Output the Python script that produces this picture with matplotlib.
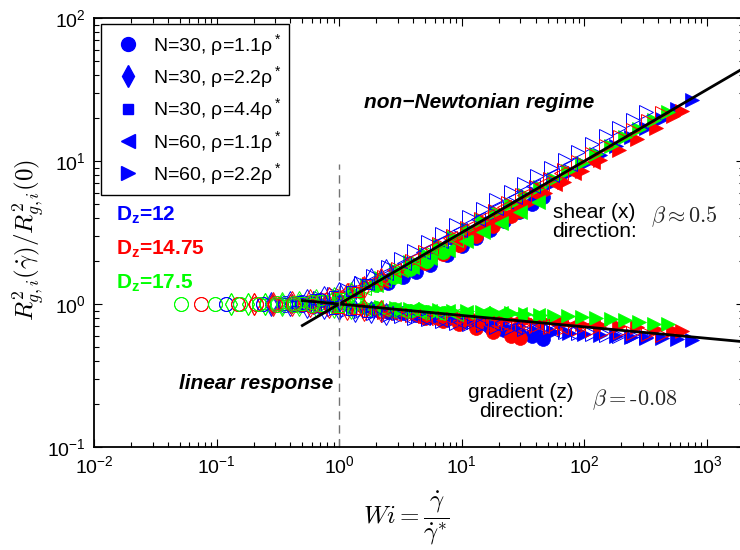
import numpy as np
import matplotlib.pyplot as plt
from matplotlib.lines import Line2D

plt.rcParams['font.family'] = 'Liberation Sans'
plt.rcParams['mathtext.fontset'] = 'custom'
plt.rcParams['mathtext.rm'] = 'Liberation Sans'
plt.rcParams['mathtext.it'] = 'Liberation Sans:italic'
plt.rcParams['mathtext.bf'] = 'Liberation Sans:bold'

# ---- data: Wi, shear (x) ratio, gradient (z) ratio ----
# Dz = 12 (blue)
wi_b_circ_open = [0.12, 0.24, 0.36, 0.5, 0.7]
sx_b_circ_open = [1.00, 1.00, 1.01, 1.03, 1.06]
sz_b_circ_open = [1.00, 1.00, 0.99, 0.98, 0.97]
wi_b_diam_open = [0.28, 0.4, 0.55, 0.75, 1.0, 1.35, 1.8, 2.4]
sx_b_diam_open = [1.02, 1.04, 1.07, 1.12, 1.2, 1.32, 1.5, 1.72]
sz_b_diam_open = [0.99, 0.98, 0.96, 0.94, 0.92, 0.9, 0.88, 0.85]
wi_b_sq_open = [0.45, 0.65, 0.9, 1.25, 1.7]
sx_b_sq_open = [1.05, 1.08, 1.14, 1.24, 1.38]
sz_b_sq_open = [0.97, 0.95, 0.93, 0.91, 0.88]
wi_b_tri_open = [0.7, 0.9, 1.15, 1.5, 1.9, 2.5, 3.2, 4.1, 5.3, 6.9, 8.9, 11.5, 15,
                 19, 25, 32, 41, 53, 69, 89, 115, 150, 190, 250, 320]
sx_b_tri_open = [1.1, 1.17, 1.26, 1.4, 1.56, 1.8, 2.05, 2.35, 2.7, 3.1, 3.55, 4.05, 4.65,
                 5.3, 6.1, 6.9, 7.8, 8.9, 10.1, 11.5, 13.1, 15.0, 16.9, 19.4, 22.0]
sz_b_tri_open = [0.95, 0.93, 0.91, 0.89, 0.87, 0.84, 0.82, 0.8, 0.78, 0.76, 0.74, 0.72, 0.71,
                 0.69, 0.68, 0.67, 0.66, 0.65, 0.64, 0.63, 0.62, 0.61, 0.6, 0.6, 0.59]
wi_b_left_open = [0.6, 0.85, 1.2, 1.7, 2.4, 3.4, 4.8, 6.8, 9.6, 13.5, 19, 27, 38, 54, 76]
sx_b_left_open = [1.06, 1.12, 1.22, 1.4, 1.65, 1.95, 2.3, 2.75, 3.3, 3.95, 4.7, 5.6, 6.7, 8.0, 9.5]
sz_b_left_open = [0.97, 0.95, 0.92, 0.89, 0.86, 0.83, 0.8, 0.77, 0.75, 0.73, 0.71, 0.69, 0.67,
                  0.66, 0.64]
wi_b_circ_fill = [2.5, 3.3, 4.2, 5.5, 7.5, 10, 13, 17, 22, 29, 37, 46]
sx_b_circ_fill = [1.4, 1.55, 1.68, 1.88, 2.2, 2.55, 2.9, 3.3, 3.8, 4.4, 5.0, 5.6]
sz_b_circ_fill = [0.88, 0.86, 0.84, 0.81, 0.78, 0.75, 0.72, 0.69, 0.66, 0.63, 0.6, 0.57]
wi_b_left_fill = [1.8, 2.6, 3.8, 5.5, 8, 11.5, 17, 25]
sx_b_left_fill = [1.35, 1.6, 1.9, 2.25, 2.75, 3.3, 4.0, 4.9]
sz_b_left_fill = [0.9, 0.87, 0.84, 0.8, 0.77, 0.74, 0.71, 0.68]
wi_b_right_fill = [40, 55, 75, 100, 135, 180, 240, 320, 430, 570, 760]
sx_b_right_fill = [6.0, 7.0, 8.2, 9.5, 11.0, 12.8, 14.8, 17.0, 19.8, 23.0, 26.7]
sz_b_right_fill = [0.65, 0.64, 0.63, 0.62, 0.61, 0.6, 0.59, 0.58, 0.58, 0.57, 0.56]

# Dz = 14.75 (red)
wi_r_circ_open = [0.075, 0.15, 0.21, 0.3, 0.42, 0.6]
sx_r_circ_open = [1.0, 1.0, 1.0, 1.01, 1.02, 1.04]
sz_r_circ_open = [1.0, 1.0, 1.0, 0.99, 0.98, 0.97]
wi_r_diam_open = [0.2, 0.29, 0.41, 0.58, 0.82, 1.15, 1.6, 2.2]
sx_r_diam_open = [1.0, 1.01, 1.03, 1.06, 1.1, 1.18, 1.32, 1.5]
sz_r_diam_open = [1.0, 0.99, 0.98, 0.97, 0.95, 0.93, 0.91, 0.89]
wi_r_sq_open = [0.35, 0.5, 0.7, 1.0, 1.4]
sx_r_sq_open = [1.02, 1.04, 1.07, 1.12, 1.22]
sz_r_sq_open = [0.98, 0.97, 0.96, 0.94, 0.92]
wi_r_tri_open = [0.8, 1.05, 1.35, 1.75, 2.3, 3.0, 3.9, 5.0, 6.5, 8.5, 11, 14.3, 18.5,
                 24, 31, 40, 52, 68, 88, 115, 150, 195, 250, 330, 430]
sx_r_tri_open = [1.08, 1.15, 1.25, 1.38, 1.55, 1.77, 2.0, 2.3, 2.62, 3.0, 3.42, 3.9, 4.45,
                 5.1, 5.8, 6.6, 7.5, 8.6, 9.8, 11.2, 12.8, 14.6, 16.6, 19.1, 21.8]
sz_r_tri_open = [0.96, 0.94, 0.92, 0.9, 0.88, 0.86, 0.84, 0.82, 0.8, 0.78, 0.76, 0.75, 0.73,
                 0.72, 0.71, 0.7, 0.69, 0.68, 0.67, 0.66, 0.65, 0.64, 0.63, 0.62, 0.61]
wi_r_left_open = [0.5, 0.7, 1.0, 1.4, 2.0, 2.8, 4.0, 5.6, 8, 11, 16, 22, 32, 45, 64]
sx_r_left_open = [1.04, 1.08, 1.15, 1.28, 1.48, 1.72, 2.05, 2.45, 2.9, 3.4, 4.1, 4.8, 5.8,
                  6.9, 8.2]
sz_r_left_open = [0.98, 0.96, 0.94, 0.91, 0.88, 0.85, 0.83, 0.8, 0.78, 0.76, 0.74, 0.73, 0.71,
                  0.7, 0.69]
wi_r_circ_fill = [5, 7, 9.5, 13, 18, 25, 30]
sx_r_circ_fill = [1.95, 2.25, 2.6, 3.0, 3.5, 4.1, 4.5]
sz_r_circ_fill = [0.8, 0.76, 0.72, 0.68, 0.64, 0.6, 0.58]
wi_r_left_fill = [2.2, 3.2, 4.6, 6.6, 9.5, 13.5, 19.5, 28, 40, 57, 82, 118]
sx_r_left_fill = [1.45, 1.72, 2.05, 2.45, 2.9, 3.45, 4.1, 4.9, 5.8, 6.9, 8.3, 9.9]
sz_r_left_fill = [0.9, 0.88, 0.86, 0.84, 0.82, 0.8, 0.78, 0.77, 0.75, 0.74, 0.73, 0.72]
wi_r_right_fill = [12, 17, 24, 34, 48, 68, 96, 135, 190, 270, 380, 530, 620]
sx_r_right_fill = [3.0, 3.6, 4.2, 5.0, 6.0, 7.1, 8.5, 10.1, 12.0, 14.3, 17.0, 20.5, 22.5]
sz_r_right_fill = [0.83, 0.81, 0.79, 0.77, 0.76, 0.74, 0.73, 0.71, 0.7, 0.69, 0.67, 0.66, 0.65]

# Dz = 17.5 (green)
wi_g_circ_open = [0.051, 0.097, 0.155, 0.22, 0.31, 0.43, 0.6]
sx_g_circ_open = [1.0, 1.0, 1.0, 1.0, 1.01, 1.02, 1.04]
sz_g_circ_open = [1.0, 1.0, 1.0, 1.0, 0.99, 0.99, 0.98]
wi_g_diam_open = [0.13, 0.18, 0.25, 0.34, 0.47, 0.65, 0.9, 1.25]
sx_g_diam_open = [1.0, 1.0, 1.0, 1.01, 1.03, 1.06, 1.1, 1.2]
sz_g_diam_open = [1.0, 1.0, 1.0, 0.99, 0.98, 0.97, 0.96, 0.94]
wi_g_sq_open = [0.25, 0.36, 0.5, 0.72, 1.0]
sx_g_sq_open = [1.0, 1.01, 1.03, 1.06, 1.1]
sz_g_sq_open = [1.0, 0.99, 0.98, 0.97, 0.96]
wi_g_tri_open = [0.55, 0.75, 1.0, 1.35, 1.8, 2.4, 3.2, 4.3, 5.8]
sx_g_tri_open = [1.04, 1.07, 1.12, 1.2, 1.32, 1.5, 1.7, 1.95, 2.25]
sz_g_tri_open = [0.99, 0.98, 0.97, 0.95, 0.94, 0.92, 0.9, 0.89, 0.87]
wi_g_left_open = [0.4, 0.58, 0.82, 1.15, 1.6, 2.3, 3.2, 4.5, 6.4, 9]
sx_g_left_open = [1.02, 1.05, 1.1, 1.18, 1.3, 1.48, 1.72, 2.0, 2.35, 2.8]
sz_g_left_open = [0.99, 0.98, 0.96, 0.95, 0.93, 0.91, 0.9, 0.88, 0.86, 0.85]
wi_g_circ_fill = [2.0, 2.8, 3.8, 5.2, 7]
sx_g_circ_fill = [1.35, 1.55, 1.75, 2.0, 2.3]
sz_g_circ_fill = [0.94, 0.92, 0.9, 0.88, 0.86]
wi_g_left_fill = [1.4, 2.0, 2.8, 3.9, 5.5, 7.7, 10.8, 15, 21, 30, 42]
sx_g_left_fill = [1.18, 1.35, 1.55, 1.8, 2.1, 2.4, 2.75, 3.2, 3.7, 4.4, 5.2]
sz_g_left_fill = [0.96, 0.95, 0.93, 0.92, 0.9, 0.89, 0.88, 0.87, 0.86, 0.85, 0.84]
wi_g_right_fill = [1.0, 1.3, 1.7, 2.2, 2.9, 3.8, 5.0, 6.5, 8.5, 11, 14.5, 19, 25, 33, 43,
                   56, 73, 95, 125, 165, 215, 280, 370, 480]
sx_g_right_fill = [1.12, 1.22, 1.35, 1.52, 1.72, 1.98, 2.25, 2.58, 2.95, 3.35, 3.85, 4.4,
                   5.0, 5.75, 6.55, 7.5, 8.55, 9.75, 11.2, 12.8, 14.6, 16.7, 19.2, 21.9]
sz_g_right_fill = [0.98, 0.97, 0.96, 0.95, 0.94, 0.93, 0.92, 0.91, 0.9, 0.89, 0.88, 0.87,
                   0.86, 0.85, 0.84, 0.83, 0.82, 0.81, 0.8, 0.78, 0.77, 0.75, 0.73, 0.72]

legend_labels = ['N=30, ρ=1.1ρ$^*$', 'N=30, ρ=2.2ρ$^*$', 'N=30, ρ=4.4ρ$^*$',
                 'N=60, ρ=1.1ρ$^*$', 'N=60, ρ=2.2ρ$^*$']
legend_markers = ['o', 'd', 's', '<', '>']
dz_labels = ['12', '14.75', '17.5']
dz_colors = ['#0000ff', '#ff0000', '#00ff00']

beta_shear = 0.5
beta_grad = -0.08
fit_range = np.array([0.5, 2000.0])
wi_onset = 1.0
onset_top = 9.5

B, R, G = dz_colors
filled = [
    (wi_b_circ_fill, sx_b_circ_fill, sz_b_circ_fill, B, 'o'),
    (wi_b_left_fill, sx_b_left_fill, sz_b_left_fill, B, '<'),
    (wi_b_right_fill, sx_b_right_fill, sz_b_right_fill, B, '>'),
    (wi_r_circ_fill, sx_r_circ_fill, sz_r_circ_fill, R, 'o'),
    (wi_r_left_fill, sx_r_left_fill, sz_r_left_fill, R, '<'),
    (wi_r_right_fill, sx_r_right_fill, sz_r_right_fill, R, '>'),
    (wi_g_circ_fill, sx_g_circ_fill, sz_g_circ_fill, G, 'o'),
    (wi_g_left_fill, sx_g_left_fill, sz_g_left_fill, G, '<'),
    (wi_g_right_fill, sx_g_right_fill, sz_g_right_fill, G, '>'),
]
hollow = [
    (wi_b_tri_open, sx_b_tri_open, sz_b_tri_open, B, '>'),
    (wi_r_tri_open, sx_r_tri_open, sz_r_tri_open, R, '>'),
    (wi_g_tri_open, sx_g_tri_open, sz_g_tri_open, G, '>'),
    (wi_b_left_open, sx_b_left_open, sz_b_left_open, B, '<'),
    (wi_r_left_open, sx_r_left_open, sz_r_left_open, R, '<'),
    (wi_g_left_open, sx_g_left_open, sz_g_left_open, G, '<'),
    (wi_b_diam_open, sx_b_diam_open, sz_b_diam_open, B, 'd'),
    (wi_r_diam_open, sx_r_diam_open, sz_r_diam_open, R, 'd'),
    (wi_g_diam_open, sx_g_diam_open, sz_g_diam_open, G, 'd'),
    (wi_b_sq_open, sx_b_sq_open, sz_b_sq_open, B, 's'),
    (wi_r_sq_open, sx_r_sq_open, sz_r_sq_open, R, 's'),
    (wi_g_sq_open, sx_g_sq_open, sz_g_sq_open, G, 's'),
    (wi_b_circ_open, sx_b_circ_open, sz_b_circ_open, B, 'o'),
    (wi_r_circ_open, sx_r_circ_open, sz_r_circ_open, R, 'o'),
    (wi_g_circ_open, sx_g_circ_open, sz_g_circ_open, G, 'o'),
]
msize = {'o': 10, 'd': 11, 's': 7, '<': 10, '>': 10}

fig = plt.figure(figsize=(7.4, 5.5), dpi=100)
ax = fig.add_axes([94 / 740, 103 / 550, 650 / 740, 429 / 550])

for wi, sx, sz, c, m in filled:
    for y in (sx, sz):
        ax.plot(wi, y, ls='none', marker=m, ms=msize[m], mfc=c, mec=c, mew=0.5)
for wi, sx, sz, c, m in hollow:
    for y in (sx, sz):
        ax.plot(wi, y, ls='none', marker=m, ms=msize[m], mfc='none', mec=c, mew=0.7)

ax.plot(fit_range, fit_range ** beta_shear, color='k', lw=2)
ax.plot(fit_range, fit_range ** beta_grad, color='k', lw=2)
ax.plot([wi_onset, wi_onset], [0.1, onset_top], color='0.45', lw=1, dashes=(6, 4))

ax.set_xscale('log')
ax.set_yscale('log')
ax.set_xlim(0.01, 2000)
ax.set_ylim(0.1, 100)
ax.tick_params(which='both', direction='in', top=True, right=True, labelsize=14, width=0.8)
ax.tick_params(which='major', length=6, pad=6)
ax.tick_params(which='minor', length=3.5)
for s in ax.spines.values():
    s.set_linewidth(1.3)

ax.set_xlabel(r'$Wi = \dfrac{\dot{\gamma}}{\dot{\gamma}^{*}}$', fontsize=18, math_fontfamily='cm')
ax.xaxis.set_label_coords(0.48, -0.165)
ax.xaxis.label.set_va('center')
ax.set_ylabel(r'$R^2_{g,i}(\dot{\gamma})/R^2_{g,i}(0)$', fontsize=18, math_fontfamily='cm')
ax.yaxis.set_label_coords(-0.1, 0.483)
ax.yaxis.label.set_va('center')

handles = [Line2D([], [], ls='none', marker=m, ms=msize[m], color=B) for m in legend_markers]
leg = ax.legend(handles, legend_labels, loc='upper left', bbox_to_anchor=(0.0108, 0.986),
                borderaxespad=0, fontsize=14, handlelength=2.0, handletextpad=0.25,
                labelspacing=0.33, borderpad=0.4, fancybox=False, framealpha=1,
                edgecolor='k')
leg.get_frame().set_linewidth(1.0)

dz_y = [4.19, 2.42, 1.40]
for lab, c, y in zip(dz_labels, dz_colors, dz_y):
    ax.text(0.0152, y, r'$\mathbf{D_z}$=' + lab, color=c, fontsize=15, fontweight='bold',
            ha='left', va='center')

ax.text(13.8, 25.5, 'non−Newtonian regime', fontsize=15, fontweight='bold', style='italic',
        ha='center', va='center')
ax.text(0.89, 0.28, 'linear response', fontsize=15, fontweight='bold', style='italic',
        ha='right', va='center')
ax.text(120, 3.74, 'shear (x)\ndirection:', fontsize=15, ha='center', va='center',
        linespacing=1.0)
ax.text(649, 4.06, r'$\beta \approx 0.5$', fontsize=16, ha='center', va='center',
        math_fontfamily='cm', color='0.15')
ax.text(30.4, 0.206, 'gradient (z)\ndirection:', fontsize=15, ha='center', va='center',
        linespacing=1.0)
ax.text(259, 0.213, r'$\beta = \text{-}0.08$', fontsize=16, ha='center', va='center',
        math_fontfamily='cm', color='0.15')

fig.savefig('out.png', dpi=100)
